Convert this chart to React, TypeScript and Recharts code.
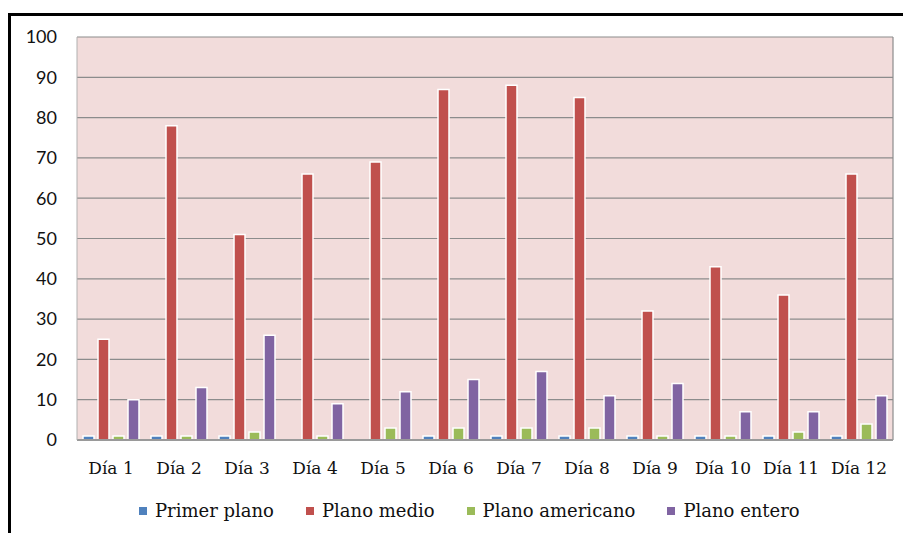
/**
 * Planos por día — grouped bar chart (Recharts).
 */
import { BarChart, Bar, XAxis, YAxis, CartesianGrid } from "recharts";

const days = [
  "Día 1", "Día 2", "Día 3", "Día 4", "Día 5", "Día 6",
  "Día 7", "Día 8", "Día 9", "Día 10", "Día 11", "Día 12",
];

const primerPlano = [1, 1, 1, 0, 0, 1, 1, 1, 1, 1, 1, 1];
const planoMedio = [25, 78, 51, 66, 69, 87, 88, 85, 32, 43, 36, 66];
const planoAmericano = [1, 1, 2, 1, 3, 3, 3, 3, 1, 1, 2, 4];
const planoEntero = [10, 13, 26, 9, 12, 15, 17, 11, 14, 7, 7, 11];

const yTicks = [0, 10, 20, 30, 40, 50, 60, 70, 80, 90, 100];

const series = [
  { key: "primer", name: "Primer plano", color: "#4F81BD" },
  { key: "medio", name: "Plano medio", color: "#C0504D" },
  { key: "americano", name: "Plano americano", color: "#9BBB59" },
  { key: "entero", name: "Plano entero", color: "#8064A2" },
];

const data = days.map((day, i) => ({
  day,
  primer: primerPlano[i],
  medio: planoMedio[i],
  americano: planoAmericano[i],
  entero: planoEntero[i],
}));

const serif = "'DejaVu Serif', serif";

export default function App() {
  return (
    <div style={{ position: "absolute", left: 0, top: 0, width: 903, height: 533, background: "#fff", overflow: "hidden" }}>
      {/* outer frame: only top and left edges are visible in the crop */}
      <div
        style={{
          position: "absolute",
          left: 8,
          top: 13,
          width: 900,
          height: 530,
          borderTop: "3px solid #000",
          borderLeft: "3px solid #000",
        }}
      />
      <div style={{ position: "absolute", left: 0, top: 0 }}>
        <BarChart
          width={903}
          height={533}
          data={data}
          margin={{ top: 37, right: 10, bottom: 53, left: 0 }}
          barSize={11}
          barGap={4}
        >
          <CartesianGrid
            fill="#F2DCDB"
            stroke="#8C8C8C"
            strokeWidth={1.2}
            verticalCoordinatesGenerator={({ offset }: any) => [offset.left + offset.width]}
            horizontalPoints={undefined}
          />
          <XAxis
            dataKey="day"
            height={40}
            tickLine={false}
            tickSize={0}
            tickMargin={22}
            axisLine={{ stroke: "#9A9A9A", strokeWidth: 2 }}
            tick={{ fontFamily: serif, fontSize: 17, fill: "#111" }}
            interval={0}
          />
          <YAxis
            width={77}
            domain={[0, 100]}
            ticks={yTicks}
            tickLine={false}
            tickSize={0}
            tickMargin={20}
            axisLine={{ stroke: "#B0B0B0" }}
            tick={{ fontFamily: "Lato, sans-serif", fontSize: 18, fill: "#111" }}
          />
          {series.map((s) => (
            <Bar
              key={s.key}
              dataKey={s.key}
              name={s.name}
              fill={s.color}
              stroke="#fff"
              strokeWidth={1.5}
              isAnimationActive={false}
            />
          ))}
        </BarChart>
      </div>
      {/* legend */}
      <div
        style={{
          position: "absolute",
          left: 139,
          top: 500,
          display: "flex",
          alignItems: "center",
          fontFamily: serif,
          fontSize: 18,
          color: "#111",
          whiteSpace: "nowrap",
        }}
      >
        {series.map((s, i) => (
          <div key={s.key} style={{ display: "flex", alignItems: "center", marginRight: i < series.length - 1 ? 32 : 0 }}>
            <span style={{ display: "inline-block", width: 8, height: 8, background: s.color, marginRight: 8 }} />
            <span>{s.name}</span>
          </div>
        ))}
      </div>
    </div>
  );
}
